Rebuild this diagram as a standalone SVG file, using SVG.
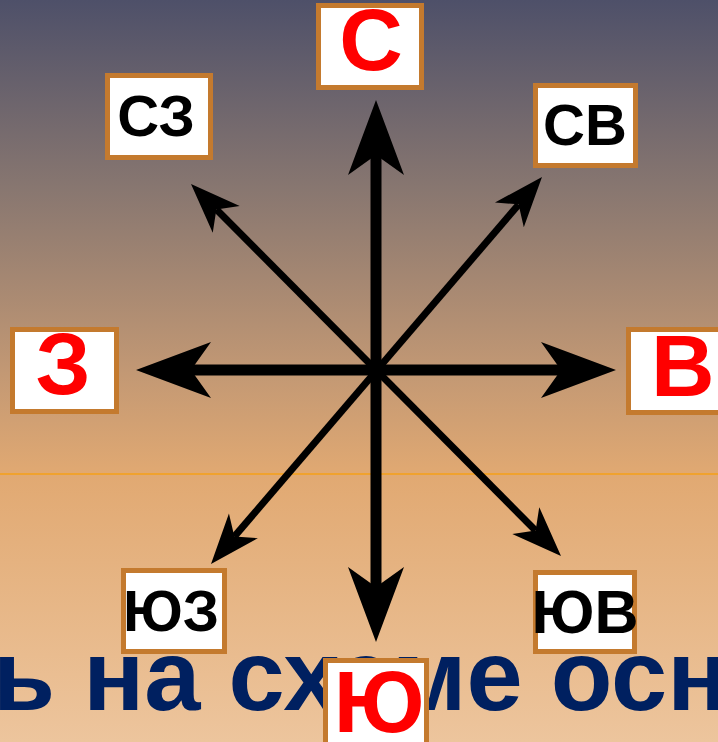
<svg xmlns="http://www.w3.org/2000/svg" width="718" height="742" viewBox="0 0 718 742">
  <defs>
    <linearGradient id="bg" x1="0" y1="0" x2="0" y2="1">
      <stop offset="0" stop-color="#4e5069"/>
      <stop offset="0.25" stop-color="#877670"/>
      <stop offset="0.5" stop-color="#c29874"/>
      <stop offset="0.64" stop-color="#e1a972"/>
      <stop offset="1" stop-color="#edc59d"/>
    </linearGradient>
    <path id="headBig" d="M0,0 L-75,-28 L-55,0 L-75,28 Z"/>
    <path id="headSmall" d="M0,0 L-50,-19 L-36,0 L-50,19 Z"/>
    <style>
      .box { fill: #ffffff; stroke: #c47a2e; stroke-width: 5; }
      .big { font-family: "Liberation Sans", Arial, sans-serif; font-weight: bold; font-size: 88px; fill: #ff0000; text-anchor: middle; }
      .small { font-family: "Liberation Sans", Arial, sans-serif; font-weight: bold; font-size: 58px; fill: #000000; text-anchor: middle; }
      .shaft { stroke: #000000; fill: none; stroke-linecap: butt; }
      .head { fill: #000000; }
    </style>
  </defs>

  <rect x="0" y="0" width="718" height="742" fill="url(#bg)"/>
  <line x1="0" y1="474" x2="718" y2="474" stroke="#f0a22e" stroke-width="2"/>

  <text x="-7" y="710" font-family="'Liberation Sans', Arial, sans-serif" font-weight="bold" font-size="101" fill="#002060">ь на схеме осн</text>

  <g id="connectors">
    <line class="shaft" x1="376" y1="155" x2="376" y2="587" stroke-width="11"/>
    <line class="shaft" x1="191" y1="370" x2="561" y2="370" stroke-width="11"/>
    <line class="shaft" x1="216.5" y1="209.5" x2="535.5" y2="530.5" stroke-width="7"/>
    <line class="shaft" x1="518.5" y1="204.7" x2="234.3" y2="536.6" stroke-width="7"/>
    <use href="#headBig" class="head" transform="translate(376,100) rotate(-90)"/>
    <use href="#headBig" class="head" transform="translate(376,642) rotate(90)"/>
    <use href="#headBig" class="head" transform="translate(136,370) rotate(180)"/>
    <use href="#headBig" class="head" transform="translate(616,370)"/>
    <use href="#headSmall" class="head" transform="translate(191,184) rotate(-134.8)"/>
    <use href="#headSmall" class="head" transform="translate(561,556) rotate(45.2)"/>
    <use href="#headSmall" class="head" transform="translate(542,177) rotate(-49.3)"/>
    <use href="#headSmall" class="head" transform="translate(211,564) rotate(130.4)"/>
  </g>

  <g id="node-n">
    <rect class="box" x="318.5" y="5.5" width="103" height="82"/>
    <text class="big" x="371" y="70">С</text>
  </g>
  <g id="node-nw">
    <rect class="box" x="107.5" y="75.5" width="103" height="82"/>
    <text class="small" x="156" y="136">СЗ</text>
  </g>
  <g id="node-ne">
    <rect class="box" x="535.5" y="85.5" width="100" height="80"/>
    <text class="small" x="585" y="145">СВ</text>
  </g>
  <g id="node-w">
    <rect class="box" x="12.5" y="329.5" width="104" height="82"/>
    <text class="big" x="63" y="394">З</text>
  </g>
  <g id="node-e">
    <rect class="box" x="628.5" y="329.5" width="104" height="83"/>
    <text class="big" x="651" y="396" style="text-anchor:start">В</text>
  </g>
  <g id="node-sw">
    <rect class="box" x="123.5" y="570.5" width="101" height="81"/>
    <text class="small" x="171" y="631">ЮЗ</text>
  </g>
  <g id="node-se">
    <rect class="box" x="535.5" y="572.5" width="99" height="79"/>
    <text class="small" x="585" y="633" style="font-size:61px">ЮВ</text>
  </g>
  <g id="node-s">
    <rect class="box" x="325.5" y="660.5" width="101" height="84"/>
    <text class="big" x="379" y="732">Ю</text>
  </g>
</svg>
